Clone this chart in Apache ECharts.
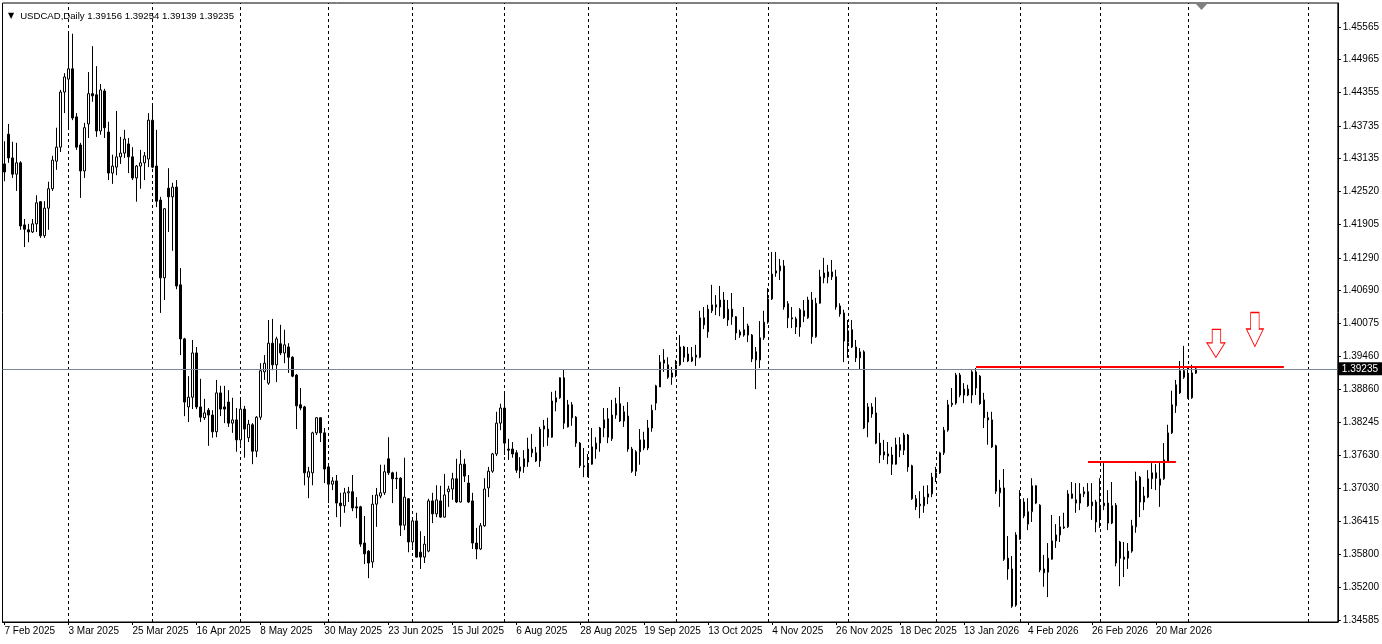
<!DOCTYPE html>
<html><head><meta charset="utf-8">
<script src="https://cdn.jsdelivr.net/npm/echarts@6/dist/echarts.min.js"></script>
<style>html,body{margin:0;padding:0;background:#fff}#c{width:1382px;height:644px}</style>
</head><body><div id="c"></div>
<script>
const symbolName = 'USDCAD,Daily';
const lastQuote = [1.39156, 1.39254, 1.39139, 1.39235]; // O H L C of last bar
const startDate = '2025-02-07';
const closedDays = ['2025-12-25', '2026-01-01'];
const slotCount = 334;

const opens = [
1.4303,1.4358,1.4314,1.4284,1.4305,1.4190,1.4181,1.4177,1.4192,1.4233,
1.4170,1.4221,1.4257,1.4308,1.4334,1.4436,1.4460,1.4479,1.4390,1.4338,
1.4290,1.4377,1.4433,1.4431,1.4364,1.4438,1.4362,1.4286,1.4297,1.4316,
1.4323,1.4340,1.4316,1.4277,1.4299,1.4305,1.4312,1.4384,1.4299,1.4236,
1.4092,1.4258,1.4242,1.4260,1.4079,1.3979,1.3853,1.3871,1.3953,1.3853,
1.3833,1.3847,1.3838,1.3807,1.3879,1.3853,1.3862,1.3823,1.3829,1.3792,
1.3849,1.3796,1.3820,1.3771,1.3834,1.3918,1.3897,1.3971,1.3931,1.3970,
1.3953,1.3964,1.3945,1.3912,1.3857,1.3853,1.3723,1.3731,1.3805,1.3833,
1.3805,1.3742,1.3710,1.3716,1.3675,1.3670,1.3694,1.3696,1.3668,1.3668,
1.3601,1.3586,1.3566,1.3673,1.3688,1.3694,1.3757,1.3731,1.3721,1.3721,
1.3634,1.3683,1.3603,1.3642,1.3584,1.3575,1.3586,1.3679,1.3655,1.3679,
1.3649,1.3696,1.3701,1.3720,1.3677,1.3747,1.3712,1.3679,1.3601,1.3590,
1.3633,1.3703,1.3734,1.3766,1.3823,1.3851,1.3775,1.3775,1.3768,1.3734,
1.3742,1.3751,1.3768,1.3768,1.3753,1.3812,1.3812,1.3797,1.3862,1.3870,
1.3907,1.3816,1.3857,1.3834,1.3786,1.3744,1.3725,1.3747,1.3775,1.3786,
1.3814,1.3831,1.3794,1.3838,1.3859,1.3827,1.3836,1.3775,1.3734,1.3770,
1.3792,1.3777,1.3814,1.3860,1.3890,1.3934,1.3931,1.3908,1.3916,1.3931,
1.3964,1.3951,1.3938,1.3945,1.3945,1.4018,1.3992,1.4031,1.4042,1.4038,
1.4051,1.4014,1.4034,1.4020,1.3992,1.3986,1.3986,1.3986,1.3955,1.3940,
1.3981,1.4010,1.4053,1.4101,1.4105,1.4114,1.4044,1.4018,1.4016,1.4001,
1.4031,1.4018,1.4051,1.3983,1.4045,1.4092,1.4094,1.4103,1.4094,1.4040,
1.4027,1.3973,1.3996,1.3964,1.3944,1.3955,1.3825,1.3853,1.3842,1.3786,
1.3764,1.3766,1.3764,1.3747,1.3783,1.3773,1.3801,1.3744,1.3683,1.3670,
1.3670,1.3686,1.3692,1.3723,1.3731,1.3768,1.3810,1.3857,1.3860,1.3912,
1.3875,1.3886,1.3875,1.3888,1.3910,1.3866,1.3833,1.3829,1.3781,1.3694,
1.3703,1.3573,1.3553,1.3486,1.3608,1.3677,1.3636,1.3659,1.3707,1.3671,
1.3553,1.3547,1.3571,1.3605,1.3616,1.3629,1.3631,1.3692,1.3675,1.3675,
1.3692,1.3696,1.3670,1.3677,1.3649,1.3670,1.3675,1.3638,1.3671,1.3603,
1.3575,1.3573,1.3586,1.3631,1.3723,1.3677,1.3686,1.3720,1.3731,1.3708,
1.3720,1.3753,1.3805,1.3855,1.3879,1.3920,1.3910,1.3870,1.39156];

const closes = [
1.4288,1.4314,1.4284,1.4305,1.4188,1.4182,1.4177,1.4192,1.4231,1.4170,
1.4221,1.4257,1.4310,1.4334,1.4436,1.4464,1.4479,1.4388,1.4334,1.4290,
1.4370,1.4433,1.4429,1.4364,1.4440,1.4370,1.4286,1.4299,1.4316,1.4323,
1.4349,1.4316,1.4277,1.4299,1.4305,1.4318,1.4384,1.4297,1.4234,1.4092,
1.4220,1.4242,1.4260,1.4077,1.3979,1.3862,1.3871,1.3953,1.3853,1.3834,
1.3842,1.3838,1.3807,1.3879,1.3849,1.3849,1.3823,1.3829,1.3792,1.3849,
1.3812,1.3821,1.3771,1.3834,1.3920,1.3934,1.3971,1.3931,1.3979,1.3953,
1.3968,1.3945,1.3910,1.3855,1.3851,1.3731,1.3733,1.3805,1.3833,1.3805,
1.3738,1.3710,1.3716,1.3675,1.3670,1.3694,1.3696,1.3666,1.3666,1.3599,
1.3581,1.3564,1.3673,1.3690,1.3694,1.3733,1.3731,1.3720,1.3720,1.3634,
1.3686,1.3603,1.3642,1.3575,1.3575,1.3599,1.3679,1.3655,1.3681,1.3649,
1.3690,1.3701,1.3720,1.3677,1.3747,1.3725,1.3677,1.3601,1.3590,1.3633,
1.3701,1.3734,1.3766,1.3823,1.3851,1.3786,1.3773,1.3766,1.3736,1.3742,
1.3757,1.3775,1.3775,1.3753,1.3812,1.3818,1.3797,1.3864,1.3870,1.3907,
1.3823,1.3857,1.3833,1.3786,1.3744,1.3742,1.3747,1.3779,1.3786,1.3814,
1.3829,1.3797,1.3838,1.3859,1.3827,1.3844,1.3775,1.3734,1.3770,1.3792,
1.3777,1.3814,1.3847,1.3892,1.3936,1.3940,1.3908,1.3916,1.3931,1.3964,
1.3945,1.3938,1.3945,1.3949,1.4018,1.4005,1.4034,1.4042,1.4038,1.4051,
1.4018,1.4034,1.4020,1.3990,1.3986,1.3996,1.4003,1.3942,1.3940,1.3981,
1.4010,1.4053,1.4099,1.4105,1.4114,1.4038,1.4018,1.4016,1.4001,1.4033,
1.4021,1.4051,1.3983,1.4045,1.4094,1.4101,1.4103,1.4094,1.4038,1.4025,
1.3975,1.3994,1.3964,1.3944,1.3955,1.3814,1.3853,1.3840,1.3786,1.3764,
1.3770,1.3762,1.3747,1.3783,1.3773,1.3801,1.3742,1.3683,1.3668,1.3673,
1.3686,1.3692,1.3723,1.3731,1.3768,1.3810,1.3857,1.3860,1.3912,1.3875,
1.3886,1.3875,1.3918,1.3918,1.3859,1.3833,1.3829,1.3779,1.3697,1.3703,
1.3571,1.3553,1.3484,1.3616,1.3677,1.3651,1.3659,1.3707,1.3675,1.3551,
1.3546,1.3573,1.3605,1.3616,1.3631,1.3631,1.3692,1.3684,1.3681,1.3692,
1.3696,1.3670,1.3677,1.3640,1.3671,1.3675,1.3638,1.3670,1.3564,1.3573,
1.3571,1.3586,1.3633,1.3716,1.3677,1.3688,1.3720,1.3731,1.3721,1.3720,
1.3755,1.3805,1.3857,1.3894,1.3920,1.3908,1.3871,1.3916,1.39235];

const lows = [
1.4271,1.4305,1.4277,1.4253,1.4181,1.4149,1.4158,1.4175,1.4177,1.4166,
1.4166,1.4181,1.4253,1.4292,1.4325,1.4397,1.4370,1.4384,1.4329,1.4240,
1.4277,1.4351,1.4418,1.4353,1.4357,1.4351,1.4273,1.4266,1.4282,1.4303,
1.4314,1.4286,1.4273,1.4233,1.4257,1.4273,1.4297,1.4295,1.4223,1.4027,
1.4051,1.4177,1.4142,1.4071,1.3949,1.3836,1.3825,1.3849,1.3849,1.3825,
1.3829,1.3781,1.3796,1.3797,1.3836,1.3823,1.3816,1.3805,1.3770,1.3783,
1.3759,1.3788,1.3747,1.3760,1.3829,1.3903,1.3894,1.3921,1.3899,1.3949,
1.3934,1.3916,1.3908,1.3812,1.3847,1.3708,1.3684,1.3708,1.3801,1.3788,
1.3712,1.3675,1.3699,1.3649,1.3631,1.3657,1.3677,1.3660,1.3647,1.3594,
1.3562,1.3536,1.3555,1.3631,1.3684,1.3690,1.3727,1.3675,1.3701,1.3614,
1.3625,1.3584,1.3594,1.3574,1.3553,1.3564,1.3584,1.3638,1.3649,1.3648,
1.3648,1.3668,1.3681,1.3675,1.3676,1.3714,1.3675,1.3590,1.3571,1.3588,
1.3631,1.3686,1.3731,1.3762,1.3810,1.3764,1.3755,1.3759,1.3731,1.3721,
1.3731,1.3742,1.3760,1.3751,1.3742,1.3779,1.3781,1.3796,1.3845,1.3868,
1.3812,1.3815,1.3818,1.3779,1.3740,1.3723,1.3723,1.3746,1.3757,1.3770,
1.3797,1.3786,1.3790,1.3831,1.3825,1.3816,1.3770,1.3731,1.3725,1.3746,
1.3773,1.3773,1.3807,1.3847,1.3890,1.3918,1.3905,1.3894,1.3908,1.3929,
1.3936,1.3936,1.3936,1.3929,1.3943,1.3997,1.3981,1.4027,1.4023,1.4021,
1.4016,1.4003,1.4005,1.3977,1.3981,1.3983,1.3973,1.3936,1.3886,1.3925,
1.3977,1.4007,1.4051,1.4094,1.4088,1.4033,1.3999,1.3999,1.3988,1.3983,
1.4010,1.4016,1.3970,1.3981,1.4044,1.4082,1.4082,1.4088,1.4033,1.4020,
1.3936,1.3944,1.3962,1.3936,1.3923,1.3812,1.3797,1.3833,1.3784,1.3749,
1.3755,1.3747,1.3727,1.3746,1.3760,1.3764,1.3733,1.3681,1.3662,1.3647,
1.3657,1.3673,1.3686,1.3714,1.3729,1.3764,1.3807,1.3853,1.3857,1.3871,
1.3860,1.3873,1.3860,1.3875,1.3857,1.3814,1.3783,1.3777,1.3692,1.3668,
1.3568,1.3533,1.3481,1.3483,1.3607,1.3647,1.3625,1.3640,1.3673,1.3547,
1.3520,1.3501,1.3570,1.3592,1.3603,1.3627,1.3629,1.3683,1.3657,1.3662,
1.3686,1.3668,1.3644,1.3621,1.3629,1.3662,1.3625,1.3636,1.3558,1.3521,
1.3538,1.3553,1.3583,1.3620,1.3649,1.3662,1.3684,1.3701,1.3699,1.3668,
1.3718,1.3751,1.3803,1.3842,1.3877,1.3905,1.3868,1.3868,1.39139];

const highs = [
1.4345,1.4377,1.4344,1.4342,1.4308,1.4201,1.4192,1.4201,1.4245,1.4234,
1.4234,1.4270,1.4318,1.4370,1.4440,1.4471,1.4544,1.4544,1.4397,1.4342,
1.4379,1.4473,1.4521,1.4484,1.4451,1.4442,1.4381,1.4320,1.4401,1.4353,
1.4366,1.4351,1.4334,1.4301,1.4329,1.4325,1.4397,1.4414,1.4366,1.4242,
1.4221,1.4295,1.4268,1.4273,1.4110,1.3981,1.3910,1.3977,1.3964,1.3905,
1.3868,1.3851,1.3847,1.3903,1.3892,1.3892,1.3884,1.3870,1.3851,1.3866,
1.3855,1.3829,1.3823,1.3836,1.3934,1.3949,1.4014,1.4016,1.3983,1.4005,
1.3996,1.3971,1.3947,1.3914,1.3888,1.3855,1.3742,1.3807,1.3834,1.3834,
1.3814,1.3746,1.3723,1.3727,1.3694,1.3703,1.3705,1.3727,1.3686,1.3670,
1.3651,1.3588,1.3690,1.3703,1.3746,1.3746,1.3797,1.3733,1.3733,1.3723,
1.3759,1.3684,1.3649,1.3657,1.3623,1.3614,1.3683,1.3694,1.3708,1.3707,
1.3729,1.3707,1.3731,1.3757,1.3773,1.3757,1.3727,1.3694,1.3629,1.3638,
1.3721,1.3742,1.3768,1.3844,1.3859,1.3879,1.3794,1.3788,1.3773,1.3760,
1.3773,1.3796,1.3803,1.3779,1.3816,1.3829,1.3833,1.3881,1.3883,1.3908,
1.3923,1.3866,1.3862,1.3836,1.3788,1.3777,1.3766,1.3814,1.3797,1.3816,
1.3851,1.3851,1.3866,1.3870,1.3890,1.3855,1.3862,1.3779,1.3773,1.3812,
1.3807,1.3829,1.3857,1.3894,1.3949,1.3960,1.3945,1.3927,1.3940,1.3986,
1.3966,1.3964,1.3964,1.3968,1.4031,1.4038,1.4042,1.4079,1.4060,1.4077,
1.4066,1.4051,1.4064,1.4021,1.3996,1.4038,1.4007,1.3988,1.3964,1.4012,
1.4031,1.4073,1.4140,1.4140,1.4127,1.4125,1.4049,1.4038,1.4020,1.4036,
1.4051,1.4057,1.4066,1.4055,1.4107,1.4129,1.4116,1.4125,1.4107,1.4045,
1.4033,1.4014,1.4014,1.3977,1.3962,1.3958,1.3860,1.3860,1.3871,1.3805,
1.3792,1.3788,1.3779,1.3796,1.3797,1.3805,1.3803,1.3746,1.3690,1.3697,
1.3707,1.3708,1.3731,1.3742,1.3770,1.3816,1.3866,1.3888,1.3916,1.3916,
1.3897,1.3894,1.3921,1.3925,1.3912,1.3879,1.3844,1.3844,1.3783,1.3718,
1.3738,1.3614,1.3577,1.3621,1.3699,1.3684,1.3684,1.3721,1.3708,1.3673,
1.3579,1.3601,1.3653,1.3636,1.3651,1.3657,1.3699,1.3714,1.3712,1.3712,
1.3705,1.3712,1.3712,1.3681,1.3721,1.3749,1.3699,1.3714,1.3675,1.3605,
1.3603,1.3601,1.3644,1.3733,1.3725,1.3705,1.3736,1.3749,1.3747,1.3751,
1.3786,1.3820,1.3883,1.3903,1.3938,1.3966,1.3927,1.3931,1.39254];

const priceTicks = [1.45565,1.44965,1.44355,1.43735,1.43135,1.42520,1.41905,1.41290,1.40690,1.40075,
  1.39460,1.38860,1.38245,1.37630,1.37030,1.36415,1.35800,1.35200,1.34585];
const monthStartSlots = [16,37,59,81,102,125,146,168,191,211,233,254,274,296,326];
const resistanceLine = {price: 1.3927, from: 243, to: 320};
const breakoutLine = {price: 1.3751, from: 271, to: 293};
const arrowMarks = [{slot: 303, price: 1.39705}, {slot: 313, price: 1.39964}];

const MONTHS = ['Jan','Feb','Mar','Apr','May','Jun','Jul','Aug','Sep','Oct','Nov','Dec'];
function buildSlots() {
  const out = [];
  const d = new Date(startDate + 'T00:00:00Z');
  while (out.length < slotCount) {
    const wd = d.getUTCDay();
    const iso = d.toISOString().slice(0, 10);
    if (wd !== 0 && wd !== 6 && closedDays.indexOf(iso) < 0) {
      out.push(d.getUTCDate() + ' ' + MONTHS[d.getUTCMonth()] + ' ' + d.getUTCFullYear());
    }
    d.setUTCDate(d.getUTCDate() + 1);
  }
  return out;
}
const slots = buildSlots();
const barCount = opens.length;
const ohlc = opens.map((o, i) => [o, closes[i], lows[i], highs[i]]);
const showLabel = (i) => i % 16 === 0 && i < barCount;

const chart = echarts.init(document.getElementById('c'), null, {renderer: 'canvas'});
const FONT = 'Liberation Sans, Arial, sans-serif';

const gridLines = monthStartSlots.map(s => ({xAxis: slots[s]}));
const redPair = (l) => [
  {coord: [slots[l.from], l.price], lineStyle: {color: '#ff0000', width: 2, type: 'solid'}},
  {coord: [slots[l.to], l.price], lineStyle: {color: '#ff0000', width: 2, type: 'solid'}}
];

chart.setOption({
  animation: false,
  backgroundColor: '#ffffff',
  title: {
    text: '{t|▼}' + symbolName + ' ' + lastQuote.map(v => v.toFixed(5)).join(' '),
    left: 3, top: 6,
    textStyle: {fontFamily: FONT, fontSize: 9.6, fontWeight: 'normal', color: '#000',
      rich: {t: {fontSize: 8, color: '#000', fontFamily: 'DejaVu Sans', padding: [0, 6, 0, 0]}}}
  },
  grid: {left: 2.5, right: 43.5, top: 3, bottom: 22, show: true, borderColor: '#000', borderWidth: 1},
  xAxis: {
    type: 'category', data: slots, boundaryGap: true,
    axisLine: {show: true, lineStyle: {color: '#000', width: 1}},
    axisTick: {show: true, length: 3, interval: showLabel, alignWithLabel: true, lineStyle: {color: '#000'}},
    axisLabel: {interval: showLabel, align: 'left', margin: 4, fontSize: 10, color: '#000', fontFamily: FONT},
    splitLine: {show: false}
  },
  yAxis: {
    type: 'value', position: 'right', min: 1.34548, max: 1.46009,
    axisLine: {show: true, lineStyle: {color: '#000', width: 1}},
    axisTick: {show: true, length: 3, customValues: priceTicks, lineStyle: {color: '#000'}},
    axisLabel: {customValues: priceTicks, formatter: v => v.toFixed(5), fontSize: 10, color: '#000', margin: 5, fontFamily: FONT},
    splitLine: {show: false}
  },
  series: [
    {
      type: 'line', data: [], silent: true, z: 1,
      markLine: {
        z: 1, silent: true, symbol: ['none', 'none'], animation: false,
        label: {show: false},
        lineStyle: {color: '#000', width: 1, type: [3, 3]},
        data: gridLines
      }
    },
    {
      type: 'line', data: [], silent: true, z: 4,
      markLine: {
        z: 4, silent: true, symbol: ['none', 'none'], animation: false, precision: 5,
        lineStyle: {color: '#778899', width: 1, type: 'solid'},
        label: {show: true, position: 'end', distance: 0, formatter: lastQuote[3].toFixed(5),
                backgroundColor: '#000', color: '#fff', padding: [2, 4, 1, 4], fontSize: 10, fontFamily: FONT},
        data: [{yAxis: lastQuote[3]}]
      }
    },
    {
      type: 'candlestick', data: ohlc, barWidth: 2, z: 3,
      itemStyle: {color: '#ffffff', color0: '#000000', borderColor: '#000000', borderColor0: '#000000', borderColorDoji: '#000000', borderWidth: 1},
      markLine: {
        silent: true, symbol: ['none', 'none'], animation: false, precision: 5,
        label: {show: false},
        data: [redPair(resistanceLine), redPair(breakoutLine)]
      },
      markPoint: {
        silent: true, animation: false,
        label: {show: false},
        itemStyle: {color: '#ffffff', borderColor: '#ff0000', borderWidth: 1},
        data: [
          {coord: [slots[arrowMarks[0].slot], arrowMarks[0].price],
           symbol: 'path://M5,0L13,0L13,13L17,13L8.5,27L0,13L5,13Z', symbolSize: [18, 28]},
          {coord: [slots[arrowMarks[1].slot], arrowMarks[1].price],
           symbol: 'path://M4,0L12,0L12,16L16,16L8,33L0,16L4,16Z', symbolSize: [17, 34], symbolOffset: [-1, 0]}
        ]
      }
    }
  ],
  graphic: [{type: 'polygon', shape: {points: [[1196, 4], [1207, 4], [1201.5, 10]]}, style: {fill: '#808080'}, silent: true}]
});
</script>
</body></html>
